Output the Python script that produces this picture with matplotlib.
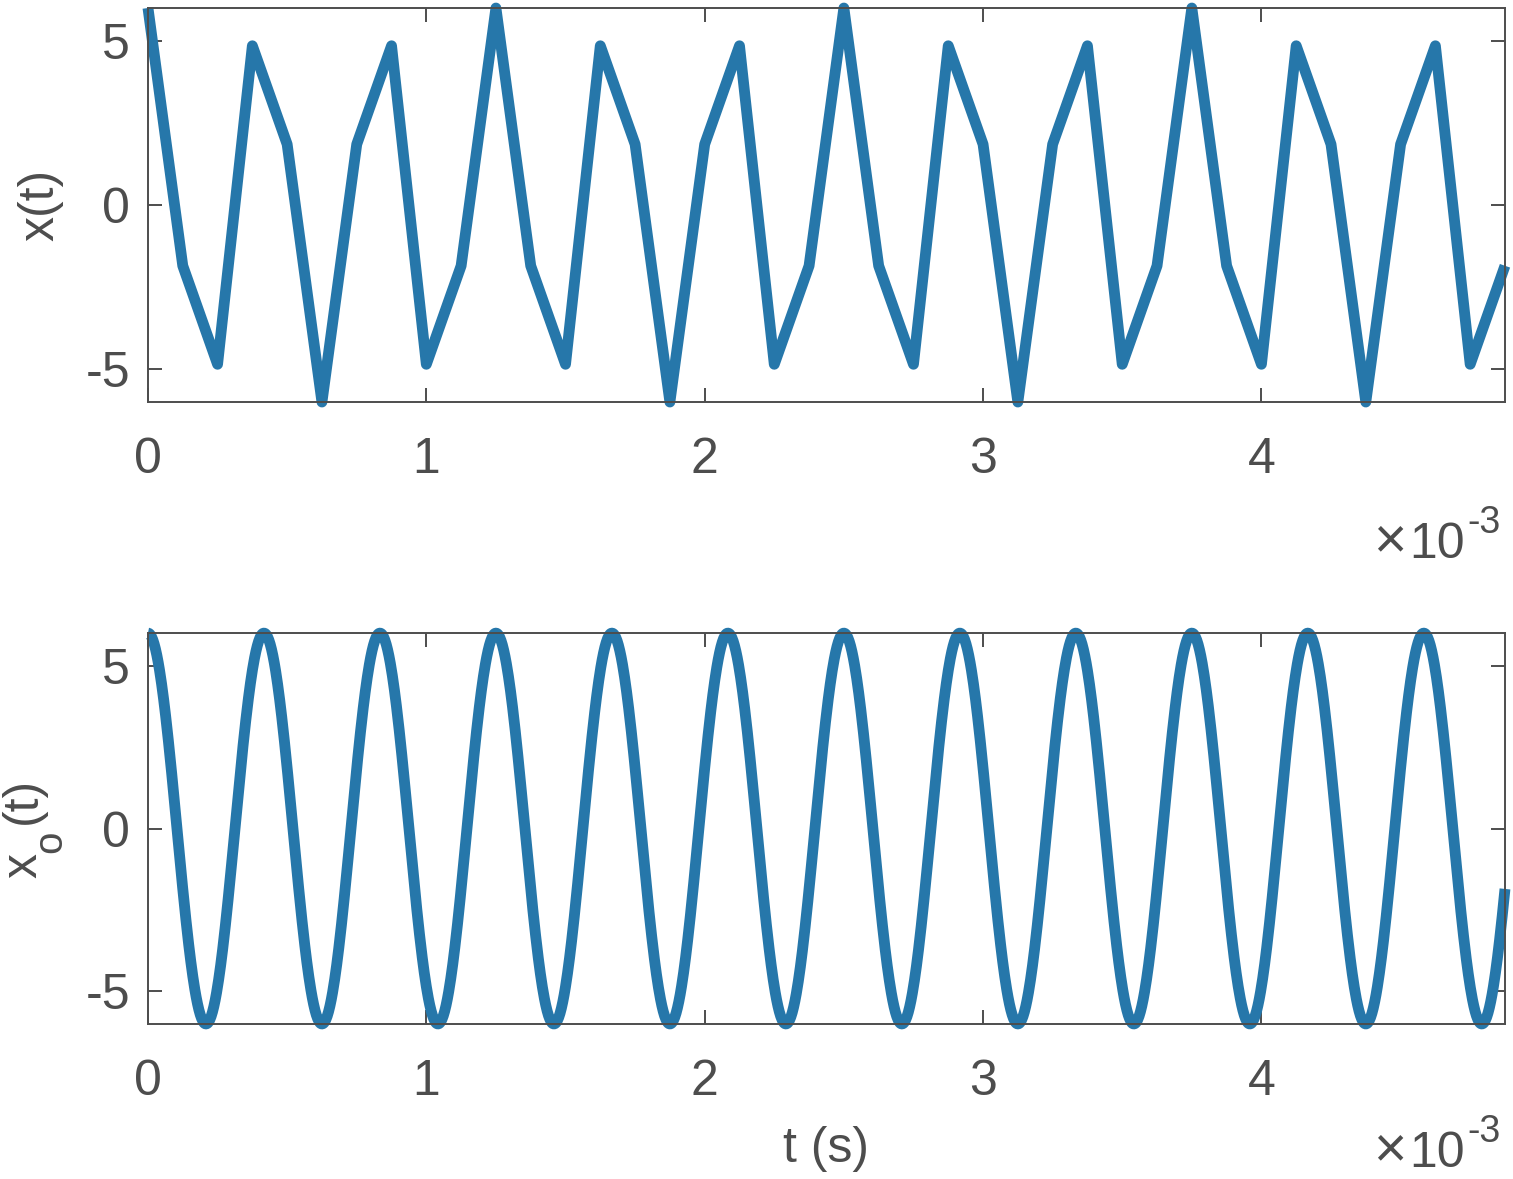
# sampled signal x(t) and the reconstructed cosine x_o(t)
import numpy as np
import matplotlib
matplotlib.use("Agg")
import matplotlib.pyplot as plt
from matplotlib.ticker import FuncFormatter

# sample times (ms) and sample values
t_samples = [0.000, 0.125, 0.250, 0.375, 0.500, 0.625, 0.750, 0.875, 1.000, 1.125,
             1.250, 1.375, 1.500, 1.625, 1.750, 1.875, 2.000, 2.125, 2.250, 2.375,
             2.500, 2.625, 2.750, 2.875, 3.000, 3.125, 3.250, 3.375, 3.500, 3.625,
             3.750, 3.875, 4.000, 4.125, 4.250, 4.375, 4.500, 4.625, 4.750, 4.875]
x_samples = [6, -1.85, -4.85, 4.85, 1.85, -6, 1.85, 4.85, -4.85, -1.85,
             6, -1.85, -4.85, 4.85, 1.85, -6, 1.85, 4.85, -4.85, -1.85,
             6, -1.85, -4.85, 4.85, 1.85, -6, 1.85, 4.85, -4.85, -1.85,
             6, -1.85, -4.85, 4.85, 1.85, -6, 1.85, 4.85, -4.85, -1.85]
t_samples = [v * 1e-3 for v in t_samples]

amp = 6.0
freq = 2400.0  # Hz (peaks every ~0.417 ms)
t_end = 4.875e-3

t_fine = np.linspace(0, t_end, 2000)
x_fine = amp * np.cos(2 * np.pi * freq * t_fine)

line_col = "#2677aa"
axis_col = "#4d4d4d"
fs = 36
W, H = 1513, 1179

plt.rcParams["font.family"] = ["Liberation Sans", "DejaVu Sans"]
plt.rcParams["axes.unicode_minus"] = False

fig = plt.figure(figsize=(W / 100, H / 100), dpi=100)
ax1 = fig.add_axes([0.0978, 0.659, 0.8969, 0.3342])
ax2 = fig.add_axes([0.0978, 0.1315, 0.8969, 0.3315])

ax1.plot(t_samples, x_samples, color=line_col, linewidth=7.8,
         solid_joinstyle="round", solid_capstyle="butt", clip_on=False)
ax2.plot(t_fine, x_fine, color=line_col, linewidth=7.8,
         solid_joinstyle="round", solid_capstyle="butt", clip_on=False)

fmt = FuncFormatter(lambda v, p: f"{v * 1e3:g}")
for ax, dy in ((ax1, 0.0), (ax2, 0.03)):
    ax.set_xlim(0, t_end)
    ax.set_ylim(-6, 6)
    ax.set_xticks([0, 1e-3, 2e-3, 3e-3, 4e-3])
    ax.set_yticks([-5, 0, 5])
    ax.xaxis.set_major_formatter(fmt)
    ax.tick_params(direction="in", length=10, width=1.4, colors=axis_col,
                   labelsize=fs, top=True, right=True)
    ax.tick_params(axis="x", pad=25)
    ax.tick_params(axis="y", pad=13)
    for s in ax.spines.values():
        s.set_color(axis_col)
        s.set_linewidth(1.4)
    # MATLAB style exponent label under the right end of the axis
    ax.text(0.9152, -0.394 + dy, "\u00d7", transform=ax.transAxes,
            ha="center", va="baseline", fontsize=41, color=axis_col)
    ax.text(0.9705, -0.395 + dy, "10", transform=ax.transAxes,
            ha="right", va="baseline", fontsize=fs, color=axis_col)
    ax.text(0.9725, -0.332 + dy, "-3", transform=ax.transAxes,
            ha="left", va="baseline", fontsize=27, color=axis_col)

ax1.set_ylabel("x(t)", fontsize=fs, color=axis_col)
ax1.yaxis.set_label_coords(-0.062, 0.5)

# x_o(t): MATLAB-style subscript, built from three rotated pieces (pixel anchors)
for txt, px, py, size in (("x", 36, 878, fs), ("o", 61, 853, 29), ("(t)", 36, 824, fs)):
    fig.text(px / W, 1 - py / H, txt, rotation=90, rotation_mode="anchor",
             ha="left", va="baseline", fontsize=size, color=axis_col)

ax2.set_xlabel("t (s)", fontsize=fs, color=axis_col)
ax2.xaxis.set_label_coords(0.5, -0.262)

fig.savefig("out.png", dpi=100)
